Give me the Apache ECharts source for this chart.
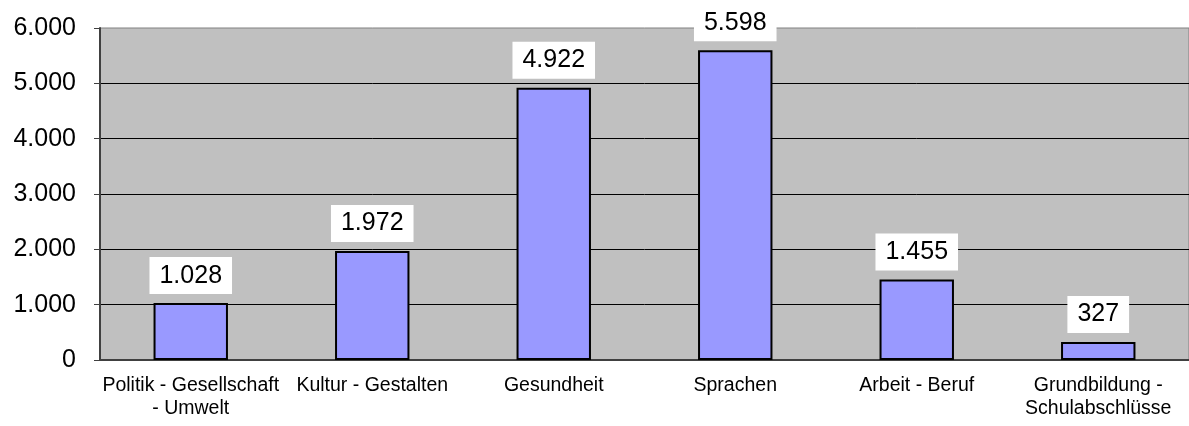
<!DOCTYPE html>
<html>
<head>
<meta charset="utf-8">
<script src="https://cdn.jsdelivr.net/npm/echarts@6/dist/echarts.min.js"></script>
<style>
  html, body { margin: 0; padding: 0; background: #fff; }
  #chart { width: 1189px; height: 426px; }
</style>
</head>
<body>
<div id="chart"></div>
<script>
// Daten
const categories = [
  'Politik - Gesellschaft\n- Umwelt',
  'Kultur - Gestalten',
  'Gesundheit',
  'Sprachen',
  'Arbeit - Beruf',
  'Grundbildung -\nSchulabschlüsse'
];
const values = [1028, 1972, 4922, 5598, 1455, 327];
const yTicks = [0, 1000, 2000, 3000, 4000, 5000, 6000];

// Tausenderpunkt wie im Original
function deFormat(v) {
  return String(v).replace(/\B(?=(\d{3})+(?!\d))/g, '.');
}

const chart = echarts.init(document.getElementById('chart'));
chart.setOption({
  animation: false,
  textStyle: { fontFamily: 'Liberation Sans, Arial, sans-serif' },
  grid: {
    left: 100, right: 0, top: 28, bottom: 66,
    show: true,
    backgroundColor: '#C0C0C0',
    borderColor: '#808080',
    borderWidth: 1
  },
  xAxis: {
    type: 'category',
    data: categories,
    axisLine: { lineStyle: { color: '#404040', width: 2 } },
    axisTick: { show: false },
    axisLabel: {
      interval: 0,
      color: '#000',
      fontSize: 19.5,
      lineHeight: 23,
      margin: 14
    }
  },
  yAxis: {
    type: 'value',
    min: yTicks[0],
    max: yTicks[yTicks.length - 1],
    interval: 1000,
    axisLine: { show: true, lineStyle: { color: '#404040', width: 2 } },
    axisTick: { show: true, length: 6, lineStyle: { color: '#404040' } },
    axisLabel: {
      color: '#000',
      fontSize: 25,
      margin: 24,
      formatter: deFormat
    },
    splitLine: {
      show: true,
      showMaxLine: false,
      lineStyle: { color: '#000', width: 1 }
    }
  },
  series: [{
    type: 'bar',
    data: values,
    barWidth: '41%',
    itemStyle: {
      color: '#9999FF',
      borderColor: '#000',
      borderWidth: 2
    },
    label: {
      show: true,
      position: 'top',
      distance: 9,
      color: '#000',
      fontSize: 25,
      backgroundColor: '#fff',
      padding: [6, 10, 6, 10],
      formatter: p => deFormat(p.value)
    }
  }]
});
</script>
</body>
</html>
